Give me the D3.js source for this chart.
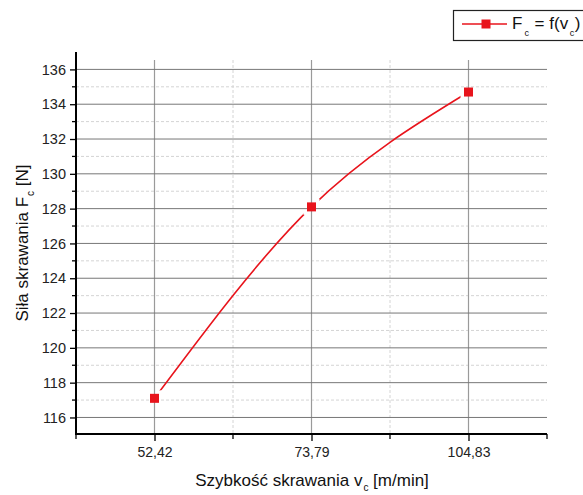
<!DOCTYPE html>
<html><head><meta charset="utf-8">
<script src="https://cdn.jsdelivr.net/npm/d3@7"></script>
<style>body{margin:0;background:#fff}svg{display:block;font-family:"Liberation Sans",Arial,sans-serif}</style>
</head><body><svg id="c" width="583" height="495"></svg>
<script>
const categories = ["52,42", "73,79", "104,83"];
const forceValues = [117.1, 128.1, 134.7];
const yTicks = [116, 118, 120, 122, 124, 126, 128, 130, 132, 134, 136];
const yMinorTicks = [117, 119, 121, 123, 125, 127, 129, 131, 133, 135];
const xMinorTicks = [-0.5, 0.5, 1.5, 2.5];

const svg = d3.select("#c");
const pLeft = 76, pRight = 547, pTop = 52, pBottom = 434;
const x = d3.scaleLinear().domain([-0.5, 2.5]).range([pLeft, pRight]);
const y = d3.scaleLinear().domain([115.05, 137]).range([pBottom, pTop]);
const red = "#e8141c";

// grid
const g = svg.append("g");
g.selectAll(".hmin").data(yMinorTicks).join("line")
  .attr("x1", pLeft).attr("x2", pRight).attr("y1", d => y(d)).attr("y2", d => y(d))
  .attr("stroke", "#d4d4d4").attr("stroke-width", 1).attr("stroke-dasharray", "3,2");
g.selectAll(".vmin").data([0.5, 1.5]).join("line")
  .attr("x1", d => x(d)).attr("x2", d => x(d)).attr("y1", pTop + 8).attr("y2", pBottom)
  .attr("stroke", "#d4d4d4").attr("stroke-width", 1).attr("stroke-dasharray", "3,2");
g.selectAll(".vmaj").data(categories.map((c, i) => i)).join("line")
  .attr("x1", d => x(d)).attr("x2", d => x(d)).attr("y1", pTop + 8).attr("y2", pBottom)
  .attr("stroke", "#9a9a9a").attr("stroke-width", 1.2);
g.selectAll(".hmaj").data(yTicks).join("line")
  .attr("x1", pLeft).attr("x2", pRight).attr("y1", d => y(d)).attr("y2", d => y(d))
  .attr("stroke", "#777").attr("stroke-width", 1);

// axes
const yAxis = d3.axisLeft(y).tickValues(yTicks).tickSize(6).tickPadding(4).tickFormat(d3.format("d"));
const ya = svg.append("g").attr("transform", `translate(${pLeft},0)`).call(yAxis);
ya.select(".domain").remove();
ya.selectAll(".tick line").attr("stroke", "#000").attr("stroke-width", 1.3);
ya.selectAll("text").attr("font-size", 14.5).attr("fill", "#222").attr("font-family", "Liberation Sans, Arial, sans-serif");
svg.append("g").selectAll("line").data(yMinorTicks).join("line")
  .attr("x1", pLeft - 4).attr("x2", pLeft).attr("y1", d => y(d)).attr("y2", d => y(d))
  .attr("stroke", "#000").attr("stroke-width", 1.3);

const xAxis = d3.axisBottom(x).tickValues([0, 1, 2]).tickSize(7).tickPadding(6).tickFormat(i => categories[i]);
const xa = svg.append("g").attr("transform", `translate(0,${pBottom})`).call(xAxis);
xa.select(".domain").remove();
xa.selectAll(".tick line").attr("stroke", "#000").attr("stroke-width", 1.3);
xa.selectAll("text").attr("font-size", 14).attr("fill", "#222").attr("font-family", "Liberation Sans, Arial, sans-serif");
svg.append("g").selectAll("line").data(xMinorTicks).join("line")
  .attr("x1", d => x(d)).attr("x2", d => x(d)).attr("y1", pBottom).attr("y2", pBottom + 5)
  .attr("stroke", "#000").attr("stroke-width", 1.3);

svg.append("line").attr("x1", pLeft).attr("x2", pLeft).attr("y1", pTop).attr("y2", pBottom + 1)
  .attr("stroke", "#000").attr("stroke-width", 2);
svg.append("line").attr("x1", pLeft - 1).attr("x2", pRight).attr("y1", pBottom).attr("y2", pBottom)
  .attr("stroke", "#000").attr("stroke-width", 2);

// data line with gaps at markers
const pts = forceValues.map((v, i) => [x(i), y(v)]);
const defs = svg.append("defs");
const mask = defs.append("mask").attr("id", "gap").attr("maskUnits", "userSpaceOnUse")
  .attr("x", 0).attr("y", 0).attr("width", 583).attr("height", 495);
mask.append("rect").attr("width", 583).attr("height", 495).attr("fill", "#fff");
mask.selectAll("rect.h").data(pts).join("rect").attr("class", "h")
  .attr("x", d => d[0] - 8).attr("y", d => d[1] - 8).attr("width", 16).attr("height", 16).attr("fill", "#000");
svg.append("path").datum(pts)
  .attr("d", d3.line().curve(d3.curveNatural))
  .attr("fill", "none").attr("stroke", red).attr("stroke-width", 1.6).attr("mask", "url(#gap)");
svg.selectAll("rect.m").data(pts).join("rect").attr("class", "m")
  .attr("x", d => d[0] - 4.5).attr("y", d => d[1] - 4.5).attr("width", 9).attr("height", 9).attr("fill", red);

// axis titles
const yl = svg.append("text").attr("transform", "translate(28,243) rotate(-90)")
  .attr("text-anchor", "middle").attr("font-size", 17).attr("fill", "#111");
yl.append("tspan").text("Siła skrawania F");
yl.append("tspan").text("c").attr("font-size", 10).attr("dy", 6).attr("dx", 1);
yl.append("tspan").text(" [N]").attr("dy", -6);

const xl = svg.append("text").attr("x", 312).attr("y", 486)
  .attr("text-anchor", "middle").attr("font-size", 17).attr("fill", "#111");
xl.append("tspan").text("Szybkość skrawania v");
xl.append("tspan").text("c").attr("font-size", 10).attr("dy", 5).attr("dx", 1);
xl.append("tspan").text(" [m/min]").attr("dy", -5);

// legend
svg.append("rect").attr("x", 453.5).attr("y", 10.5).attr("width", 140).attr("height", 30)
  .attr("fill", "#fff").attr("stroke", "#222").attr("stroke-width", 1.2);
svg.append("line").attr("x1", 462).attr("x2", 507).attr("y1", 24).attr("y2", 24)
  .attr("stroke", red).attr("stroke-width", 1.6);
svg.append("rect").attr("x", 481.5).attr("y", 19.5).attr("width", 9).attr("height", 9).attr("fill", red);
const lt = svg.append("text").attr("x", 512).attr("y", 29).attr("font-size", 17).attr("fill", "#111");
lt.append("tspan").text("F");
lt.append("tspan").text("c").attr("font-size", 9).attr("dy", 7).attr("dx", 2);
lt.append("tspan").text(" = f(v").attr("dy", -7).attr("dx", 1);
lt.append("tspan").text("c").attr("font-size", 9).attr("dy", 7).attr("dx", 1.5);
lt.append("tspan").text(")").attr("dy", -7).attr("dx", 0.5);
</script></body></html>
